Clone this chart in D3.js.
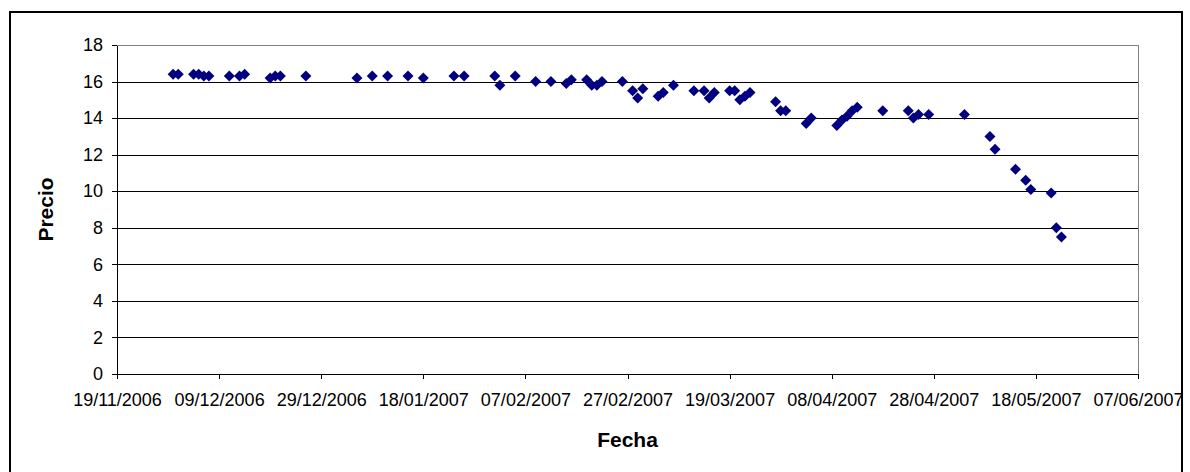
<!DOCTYPE html>
<html>
<head>
<meta charset="utf-8">
<script src="https://cdn.jsdelivr.net/npm/d3@7"></script>
<style>
  body { margin: 0; background: #fff; }
  svg { display: block; font-family: "Liberation Sans", Arial, sans-serif; }
  .axis path, .axis line { stroke: #000; shape-rendering: crispEdges; }
  .axis text { font-size: 18px; fill: #000; }
</style>
</head>
<body>
<script>
// fechas y precios
var fechas = ["30/11/2006","01/12/2006","04/12/2006","05/12/2006","06/12/2006","07/12/2006",
  "11/12/2006","13/12/2006","14/12/2006","19/12/2006","20/12/2006","21/12/2006","26/12/2006",
  "05/01/2007","08/01/2007","11/01/2007","15/01/2007","18/01/2007","24/01/2007","26/01/2007",
  "01/02/2007","02/02/2007","05/02/2007","09/02/2007","12/02/2007","15/02/2007","16/02/2007",
  "19/02/2007","20/02/2007","21/02/2007","22/02/2007","26/02/2007","28/02/2007",
  "01/03/2007","02/03/2007","05/03/2007","06/03/2007","08/03/2007","12/03/2007","14/03/2007",
  "15/03/2007","16/03/2007","19/03/2007","20/03/2007","21/03/2007","22/03/2007","23/03/2007",
  "28/03/2007","29/03/2007","30/03/2007","03/04/2007","04/04/2007","09/04/2007","10/04/2007",
  "11/04/2007","12/04/2007","13/04/2007","18/04/2007","23/04/2007","24/04/2007","25/04/2007",
  "27/04/2007","04/05/2007","09/05/2007","10/05/2007","14/05/2007","16/05/2007","17/05/2007",
  "21/05/2007","22/05/2007","23/05/2007"];
var precios = [16.4,16.4,16.4,16.4,16.3,16.3,
  16.3,16.3,16.4,16.2,16.3,16.3,16.3,
  16.2,16.3,16.3,16.3,16.2,16.3,16.3,
  16.3,15.8,16.3,16.0,16.0,15.9,16.1,
  16.1,15.8,15.8,16.0,16.0,15.5,
  15.1,15.6,15.2,15.4,15.8,15.5,15.5,
  15.1,15.4,15.5,15.5,15.0,15.2,15.4,
  14.9,14.4,14.4,13.7,14.0,13.6,13.9,
  14.1,14.4,14.6,14.4,14.4,14.0,14.2,
  14.2,14.2,13.0,12.3,11.2,10.6,10.1,
  9.9,8.0,7.5];
var xTicks = ["19/11/2006","09/12/2006","29/12/2006","18/01/2007","07/02/2007","27/02/2007",
  "19/03/2007","08/04/2007","28/04/2007","18/05/2007","07/06/2007"];
var yTicks = [0,2,4,6,8,10,12,14,16,18];

var parse = d3.utcParse("%d/%m/%Y"),
    fmt = d3.utcFormat("%d/%m/%Y");

var W = 1190, H = 472;
var pLeft = 117, pRight = 1138, pTop = 45, pBottom = 374;

var svg = d3.select("body").append("svg")
  .attr("width", W)
  .attr("height", H);

svg.append("rect")
  .attr("x", 10).attr("y", 12)
  .attr("width", 1172).attr("height", 480)
  .attr("fill", "#fff")
  .attr("stroke", "#000")
  .attr("stroke-width", 2);

var x = d3.scaleUtc()
  .domain([parse(xTicks[0]), parse(xTicks[xTicks.length-1])])
  .range([pLeft, pRight]);

var y = d3.scaleLinear()
  .domain([0, 18])
  .range([pBottom, pTop]);

// lineas de division
svg.append("g")
  .selectAll("line")
  .data(yTicks.slice(1, -1))
  .join("line")
  .attr("x1", pLeft).attr("x2", pRight)
  .attr("y1", d => Math.round(y(d)) + 0.5)
  .attr("y2", d => Math.round(y(d)) + 0.5)
  .attr("stroke", "#000");

// borde del area de trazado
svg.append("rect")
  .attr("x", pLeft + 0.5).attr("y", pTop + 0.5)
  .attr("width", pRight - pLeft).attr("height", pBottom - pTop)
  .attr("fill", "none")
  .attr("stroke", "#808080");

var xAxis = d3.axisBottom(x)
  .tickValues(xTicks.map(parse))
  .tickFormat(fmt)
  .tickSize(5)
  .tickSizeOuter(0)
  .tickPadding(14);

var yAxis = d3.axisLeft(y)
  .tickValues(yTicks)
  .tickSize(5)
  .tickSizeOuter(0)
  .tickPadding(9);

svg.append("g")
  .attr("class", "x axis")
  .attr("transform", "translate(0," + pBottom + ")")
  .call(xAxis);

svg.append("g")
  .attr("class", "y axis")
  .attr("transform", "translate(" + pLeft + ",0)")
  .call(yAxis);

// puntos (rombos)
var datos = fechas.map((f, i) => ({fecha: parse(f), precio: precios[i]}));
var r = 5.5;
svg.append("g")
  .selectAll("path")
  .data(datos)
  .join("path")
  .attr("transform", d => "translate(" + x(d.fecha) + "," + y(d.precio) + ")")
  .attr("d", "M0," + (-r) + "L" + r + ",0L0," + r + "L" + (-r) + ",0Z")
  .attr("fill", "#000080");

svg.append("text")
  .attr("x", (pLeft + pRight) / 2)
  .attr("y", 447)
  .attr("text-anchor", "middle")
  .attr("font-size", 21)
  .attr("font-weight", "bold")
  .text("Fecha");

svg.append("text")
  .attr("transform", "translate(53," + (pTop + pBottom) / 2 + ") rotate(-90)")
  .attr("text-anchor", "middle")
  .attr("font-size", 21)
  .attr("font-weight", "bold")
  .text("Precio");
</script>
</body>
</html>
